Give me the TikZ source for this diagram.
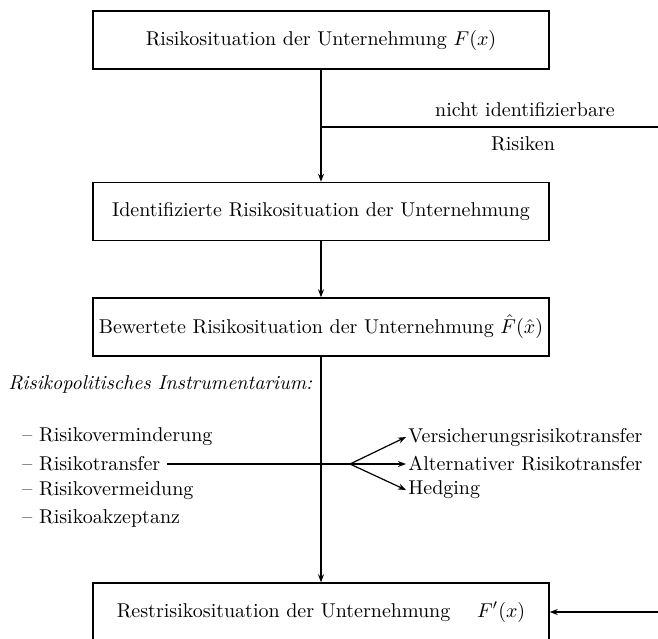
\documentclass[tikz,border=0pt]{standalone}
\usetikzlibrary{arrows.meta}
\begin{document}
\begin{tikzpicture}[x=0.5pt,y=-0.5pt,
  box/.style={draw,line width=0.75pt,minimum width=228pt,minimum height=29pt,inner sep=0pt},
  conn/.style={line width=0.6pt},
  arr/.style={conn,-{Stealth[length=4pt,width=3pt]}},
  lbl/.style={inner sep=0pt,anchor=west},
]
\useasboundingbox (0,0) rectangle (658,638);
\clip (0,0) rectangle (658,638);
\node[box] (b1) at (321,40) {Risikosituation der Unternehmung $F(x)$};
\node[box] (b2) at (321,211.5) {Identifizierte Risikosituation der Unternehmung};
\node[box] (b3) at (321,327) {Bewertete Risikosituation der Unternehmung $\hat{F}(\hat{x})$};
\node[box] (b4) at (321,612) {Restrisikosituation der Unternehmung \quad $F'(x)$};

\coordinate (br) at (321,127);
\coordinate (brE) at (658,127);
\node (nicht) at (525,110) {nicht identifizierbare};
\node (ris) at (523,144) {Risiken};

\draw[arr] (b1.south) -- (b2.north);
\draw[conn] (br) -- (brE);
\draw[arr] (b2.south) -- (b3.north);
\draw[arr] (b3.south) -- (b4.north);

\node[lbl] (head) at (8,384) {\itshape Risikopolitisches Instrumentarium:};
\node[lbl] (i1) at (22,437) {-- Risikoverminderung};
\node[lbl] (i2) at (22,464) {-- Risikotransfer};
\node[lbl] (i3) at (22,491) {-- Risikovermeidung};
\node[lbl] (i4) at (22,518) {-- Risikoakzeptanz};

\coordinate (fork) at (350,464);
\node[lbl] (v) at (408,437) {Versicherungsrisikotransfer};
\node[lbl] (a) at (408,464) {Alternativer Risikotransfer};
\node[lbl] (h) at (408,490) {Hedging};

\draw[conn] ([xshift=3pt]i2.east) -- (fork);
\draw[arr] (fork) -- ([xshift=-1pt]v.west);
\draw[arr] (fork) -- ([xshift=-1pt]a.west);
\draw[arr] (fork) -- ([xshift=-1pt]h.west);

\coordinate (rin) at (658,612);
\draw[arr] (rin) -- (b4.east);
\end{tikzpicture}
\end{document}
